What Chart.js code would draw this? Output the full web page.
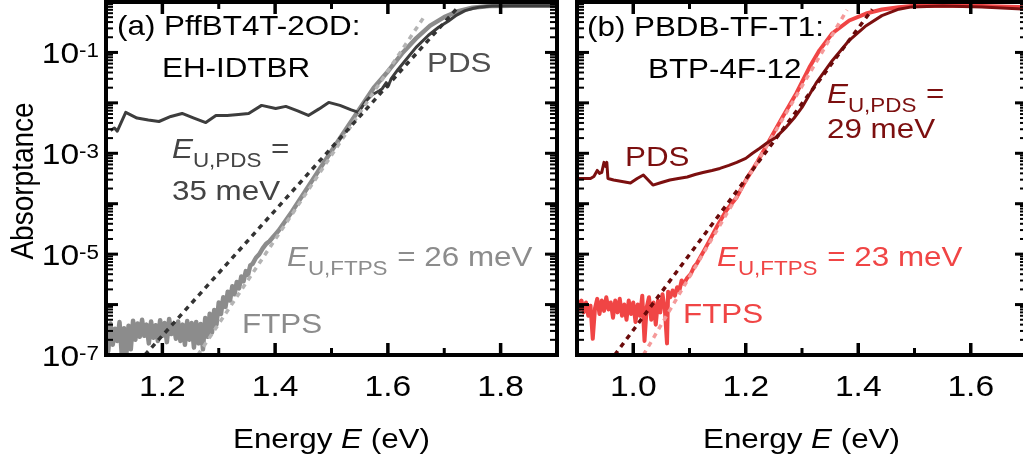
<!DOCTYPE html>
<html>
<head>
<meta charset="utf-8">
<script src="https://cdn.jsdelivr.net/npm/chart.js@4.4.1/dist/chart.umd.min.js"></script>
<style>
  html, body { margin: 0; padding: 0; background: #fff; overflow: hidden; width: 1023px; height: 462px; }
  #wrap { position: relative; width: 1023px; height: 462px; overflow: hidden; }
  .panel { position: absolute; top: 0; height: 462px; }
  #pa { left: 0; width: 565px; }
  #pb { left: 565px; width: 480px; }
</style>
</head>
<body>
<div id="wrap">
  <div class="panel" id="pa"><canvas id="ca" width="565" height="462" style="width:565px;height:462px"></canvas></div>
  <div class="panel" id="pb"><canvas id="cb" width="480" height="462" style="width:480px;height:462px"></canvas></div>
</div>
<script>
// ---------- Panel (a): PffBT4T-2OD:EH-IDTBR ----------
const pdsA_E = [1.108,1.115,1.120,1.135,1.155,1.175,1.194,1.215,1.235,1.256,1.277,1.295,1.315,1.335,1.353,1.376,1.401,1.419,1.440,1.459,1.478,1.495,1.515,1.535,1.548,1.560,1.572,1.585,1.590,1.597,1.600,1.606,1.618,1.631,1.650,1.672,1.690,1.707,1.722,1.737,1.752,1.765,1.785,1.820,1.900];
const pdsA_A = [2.82e-3,3.16e-3,2.75e-3,6.46e-3,5.0e-3,4.57e-3,4.27e-3,5.37e-3,6.17e-3,5.0e-3,4.07e-3,5.62e-3,5.62e-3,5.89e-3,6.17e-3,8.91e-3,7.76e-3,8.51e-3,6.92e-3,5.62e-3,7.59e-3,1.02e-2,8.91e-3,7.24e-3,6.46e-3,1.05e-2,1.45e-2,1.74e-2,1.91e-2,2.51e-2,2.09e-2,3.02e-2,4.6e-2,6.92e-2,0.126,0.219,0.316,0.417,0.55,0.676,0.75,0.80,0.83,0.84,0.84];

const ftpsA_E = [1.100,1.104,1.108,1.112,1.116,1.120,1.124,1.128,1.132,1.136,1.140,1.144,1.148,1.152,1.156,1.160,1.164,1.168,1.172,1.176,1.180,1.184,1.188,1.192,1.196,1.200,1.204,1.208,1.212,1.216,1.220,1.224,1.228,1.232,1.236,1.240,1.244,1.248,1.252,1.256,1.260,1.264,1.268,1.272,1.276,1.280,1.284,1.288,1.292,1.296,1.300,1.304,1.308,1.312,1.316,1.320,1.324,1.328,1.332,1.336,1.340,1.344,1.348,1.352,1.356,1.360,1.366,1.372,1.378,1.384,1.390,1.398,1.406,1.430,1.460,1.490,1.520,1.550,1.575,1.600,1.625,1.650,1.675,1.700,1.725,1.750,1.780,1.820,1.900];
const ftpsA_A = [3.0e-7,1.2e-7,4.2e-7,1.6e-7,3.3e-7,1.9e-7,4.5e-7,1.0e-7,3.4e-7,1.0e-7,3.8e-7,1.3e-7,4.8e-7,2.0e-7,4.2e-7,2.3e-7,5.0e-7,2.4e-7,4.0e-7,1.7e-7,4.6e-7,2.2e-7,3.9e-7,1.9e-7,4.9e-7,2.4e-7,4.3e-7,1.8e-7,5.2e-7,2.6e-7,4.1e-7,2.1e-7,4.6e-7,1.9e-7,4.0e-7,1.6e-7,4.7e-7,2.0e-7,4.3e-7,1.4e-7,4.5e-7,1.7e-7,4.1e-7,1.3e-7,5.4e-7,2.3e-7,6.6e-7,2.8e-7,7.8e-7,4.0e-7,1.1e-6,6.5e-7,1.4e-6,9.0e-7,1.8e-6,1.2e-6,2.3e-6,1.6e-6,2.8e-6,2.1e-6,3.6e-6,2.9e-6,4.6e-6,3.9e-6,6.0e-6,6.4e-6,8.5e-6,1.0e-5,1.3e-5,1.6e-5,1.8e-5,2.3e-5,2.9e-5,7.0e-5,2.3e-4,7.5e-4,2.4e-3,7.6e-3,2.0e-2,4.2e-2,9.5e-2,0.19,0.34,0.50,0.66,0.77,0.83,0.84,0.84];

const fitPdsA_E = [1.169, 1.725];
const fitPdsA_A = [1.0e-7, 0.80];
const fitFtpsA_E = [1.263, 1.667];
const fitFtpsA_A = [1.0e-7, 0.566];

// ---------- Panel (b): PBDB-TF-T1:BTP-4F-12 ----------
const pdsB_E = [0.900,0.924,0.930,0.936,0.940,0.944,0.948,0.951,0.953,0.955,0.965,0.980,0.995,1.007,1.018,1.035,1.050,1.065,1.080,1.096,1.110,1.124,1.140,1.154,1.170,1.184,1.200,1.212,1.225,1.237,1.254,1.272,1.286,1.300,1.325,1.354,1.384,1.414,1.442,1.472,1.495,1.550,1.620,1.700];
const pdsB_A = [3.16e-4,3.16e-4,3.47e-4,4.57e-4,3.98e-4,4.17e-4,6.61e-4,5.5e-4,6.61e-4,3.16e-4,2.95e-4,2.75e-4,2.57e-4,3.16e-4,3.72e-4,2.34e-4,2.63e-4,2.95e-4,3.16e-4,3.39e-4,3.8e-4,4.17e-4,4.57e-4,5.01e-4,5.75e-4,6.61e-4,7.94e-4,1.0e-3,1.26e-3,1.58e-3,2.09e-3,3.31e-3,5.01e-3,8.13e-3,2.45e-2,6.92e-2,0.174,0.339,0.537,0.72,0.80,0.83,0.80,0.72];

const ftpsB_E = [0.900,0.904,0.908,0.912,0.916,0.920,0.924,0.928,0.932,0.936,0.940,0.944,0.948,0.952,0.956,0.960,0.964,0.968,0.972,0.976,0.980,0.984,0.988,0.992,0.996,1.000,1.004,1.008,1.012,1.016,1.020,1.024,1.028,1.032,1.036,1.040,1.044,1.048,1.052,1.056,1.060,1.062,1.066,1.070,1.074,1.078,1.082,1.086,1.090,1.096,1.102,1.108,1.113,1.120,1.128,1.136,1.148,1.166,1.184,1.200,1.219,1.242,1.265,1.290,1.313,1.331,1.354,1.384,1.414,1.442,1.472,1.495,1.550,1.620,1.700];
const ftpsB_A = [1.3e-6,8.0e-7,1.2e-6,7.0e-7,1.1e-6,6.0e-7,9.5e-7,2.1e-7,8.5e-7,1.3e-6,6.5e-7,1.2e-6,7.5e-7,1.4e-6,8.0e-7,1.1e-6,5.5e-7,1.2e-6,7.0e-7,1.3e-6,6.0e-7,1.0e-6,5.0e-7,1.2e-6,6.5e-7,1.1e-6,4.5e-7,1.0e-6,6.0e-7,1.5e-6,1.9e-7,9.0e-7,1.4e-6,5.0e-7,1.1e-6,4.0e-7,1.2e-6,7.0e-7,1.6e-6,8.5e-7,1.7e-7,1.8e-6,1.4e-6,1.9e-6,1.5e-6,2.2e-6,1.9e-6,3.0e-6,2.6e-6,3.4e-6,4.0e-6,5.6e-6,6.5e-6,9.0e-6,1.3e-5,1.9e-5,3.4e-5,7.5e-5,1.35e-4,2.9e-4,6.3e-4,1.8e-3,5.1e-3,1.55e-2,5.0e-2,0.11,0.24,0.43,0.59,0.71,0.79,0.83,0.85,0.83,0.79];

const fitPdsB_E = [0.967, 1.425];
const fitPdsB_A = [1.0e-7, 0.718];
const fitFtpsB_E = [1.018, 1.380];
const fitFtpsB_A = [1.0e-7, 0.697];

// ---------- Axis ticks ----------
const xMajorA = [1.2, 1.4, 1.6, 1.8];
const xMinorA = [1.3, 1.5, 1.7];
const xMajorB = [1.0, 1.2, 1.4, 1.6];
const xMinorB = [1.1, 1.3, 1.5];
const xTickLabelsA = ['1.2', '1.4', '1.6', '1.8'];
const xTickLabelsB = ['1.0', '1.2', '1.4', '1.6'];
const yDecades = [-7, -6, -5, -4, -3, -2, -1, 0];
const yLabelDecades = [-7, -5, -3, -1];

// ---------- Drawing helpers ----------
const SX = 1.12;
const FONT = '"Liberation Sans", Arial, Helvetica, sans-serif';

function partWidth(ctx, p) {
  ctx.font = (p.italic ? 'italic ' : '') + (p.size || 28) + 'px ' + FONT;
  return ctx.measureText(p.t).width * SX;
}
function richWidth(ctx, parts) {
  let w = 0;
  for (const p of parts) w += partWidth(ctx, p) + (p.kern || 0);
  return w;
}
function drawRich(ctx, x, y, parts, color) {
  let cx = x;
  for (const p of parts) {
    ctx.save();
    const w = partWidth(ctx, p);
    ctx.fillStyle = color;
    ctx.textBaseline = 'alphabetic';
    ctx.textAlign = 'left';
    ctx.translate(cx, y + (p.dy || 0));
    ctx.scale(SX, 1);
    ctx.fillText(p.t, 0, 0);
    ctx.restore();
    cx += w + (p.kern || 0);
  }
}
function xy(E, A) { return E.map((e, i) => ({ x: e, y: A[i] })); }

// Boxed frame with inward ticks, tick labels, axis titles and annotations
const framePlugin = {
  id: 'frame',
  afterDraw(chart, args, o) {
    const ctx = chart.ctx;
    const xs = chart.scales.x, ys = chart.scales.y;
    const { left, right, top, bottom } = chart.chartArea;
    const off = o.offsetX;
    ctx.save();
    ctx.strokeStyle = '#000';
    ctx.lineCap = 'butt';
    const seg = (x1, y1, x2, y2, w) => {
      ctx.lineWidth = w; ctx.beginPath(); ctx.moveTo(x1, y1); ctx.lineTo(x2, y2); ctx.stroke();
    };
    const MAJ = 12, MIN = 7;
    o.xMajor.forEach(v => { const p = xs.getPixelForValue(v); seg(p, bottom, p, bottom - MAJ, 3.5); seg(p, top, p, top + MAJ, 3.5); });
    o.xMinor.forEach(v => { const p = xs.getPixelForValue(v); seg(p, bottom, p, bottom - MIN, 3); seg(p, top, p, top + MIN, 3); });
    yDecades.forEach(d => {
      const p = ys.getPixelForValue(Math.pow(10, d));
      seg(left, p, left + MAJ, p, 3); seg(right, p, right - MAJ, p, 3);
      if (d < 0) {
        for (let k = 2; k <= 9; k++) {
          const q = ys.getPixelForValue(k * Math.pow(10, d));
          seg(left, q, left + MIN, q, 2); seg(right, q, right - MIN, q, 2);
        }
      }
    });
    ctx.lineWidth = 4;
    ctx.strokeRect(left, top, right - left, bottom - top);

    // x tick labels
    o.xMajor.forEach((v, i) => {
      const p = xs.getPixelForValue(v);
      const parts = [{ t: o.xLabels[i], size: 30 }];
      drawRich(ctx, p - richWidth(ctx, parts) / 2, 396, parts, '#000');
    });
    // y tick labels (powers of ten)
    if (o.yLabels) {
      yLabelDecades.forEach(d => {
        const p = ys.getPixelForValue(Math.pow(10, d));
        const parts = [{ t: '10', size: 30 }, { t: String(d), size: 20, dy: -6 }];
        drawRich(ctx, 99 - off - richWidth(ctx, parts), p + 10.5, parts, '#000');
      });
      // y axis title
      ctx.save();
      ctx.font = '28px ' + FONT;
      ctx.fillStyle = '#000';
      ctx.textAlign = 'center';
      ctx.textBaseline = 'alphabetic';
      ctx.translate(33 - off, 181);
      ctx.scale(SX, 1);
      ctx.rotate(-Math.PI / 2);
      ctx.fillText('Absorptance', 0, 0);
      ctx.restore();
    }
    // x axis title
    drawRich(ctx, o.xTitleX - off, 448, [{ t: 'Energy ' }, { t: 'E', italic: true }, { t: ' (eV)' }], '#000');
    // annotations
    o.notes.forEach(n => drawRich(ctx, n.x - off, n.y, n.parts, n.color));
    ctx.restore();
  }
};

function makeOptions(xmin, xmax, pad, plug) {
  return {
    responsive: false,
    animation: false,
    devicePixelRatio: 1,
    layout: { padding: pad },
    events: [],
    elements: { point: { radius: 0 }, line: { tension: 0, borderJoinStyle: 'round', borderCapStyle: 'butt' } },
    scales: {
      x: { type: 'linear', min: xmin, max: xmax, display: false },
      y: { type: 'logarithmic', min: 1e-7, max: 1, display: false }
    },
    plugins: { legend: { display: false }, tooltip: { enabled: false }, frame: plug }
  };
}

const grayPDS = '#3d3d3d', grayFTPS = '#8c8c8c', grayFit = '#b4b4b4';
const redPDS = '#7c0f0f', redFTPS = '#f04545', redFit = '#f59a9a';

new Chart(document.getElementById('ca'), {
  type: 'line',
  plugins: [framePlugin],
  data: {
    datasets: [
      { data: xy(fitPdsA_E, fitPdsA_A), borderColor: '#333333', borderWidth: 3.5, borderDash: [5, 5], order: 0 },
      { data: xy(fitFtpsA_E, fitFtpsA_A), borderColor: grayFit, borderWidth: 3.5, borderDash: [5, 5], order: 1 },
      { data: xy(pdsA_E, pdsA_A), borderColor: grayPDS, borderWidth: 3, order: 2 },
      { data: xy(ftpsA_E, ftpsA_A), borderColor: grayFTPS, borderWidth: 4.5, order: 3 }
    ]
  },
  options: makeOptions(1.1, 1.9, { left: 106, right: 8, top: 2, bottom: 107 }, {
    offsetX: 0, xMajor: xMajorA, xMinor: xMinorA, xLabels: xTickLabelsA, yLabels: true, xTitleX: 233,
    notes: [
      { x: 117, y: 35, color: '#000', parts: [{ t: '(a) PffBT4T-2OD:' }] },
      { x: 162, y: 77, color: '#000', parts: [{ t: 'EH-IDTBR' }] },
      { x: 427, y: 72, color: '#505050', parts: [{ t: 'PDS' }] },
      { x: 172, y: 158, color: '#444444', parts: [{ t: 'E', italic: true }, { t: 'U,PDS', size: 20, dy: 9, kern: 1 }, { t: ' =' }] },
      { x: 172, y: 200, color: '#444444', parts: [{ t: '35 meV' }] },
      { x: 287, y: 266, color: grayFTPS, parts: [{ t: 'E', italic: true }, { t: 'U,FTPS', size: 20, dy: 9, kern: 1 }, { t: ' = 26 meV' }] },
      { x: 242, y: 333, color: grayFTPS, parts: [{ t: 'FTPS' }] }
    ]
  })
});

new Chart(document.getElementById('cb'), {
  type: 'line',
  plugins: [framePlugin],
  data: {
    datasets: [
      { data: xy(fitPdsB_E, fitPdsB_A), borderColor: '#6a0a0a', borderWidth: 3.5, borderDash: [5, 5], order: 0 },
      { data: xy(pdsB_E, pdsB_A), borderColor: redPDS, borderWidth: 3, order: 1 },
      { data: xy(fitFtpsB_E, fitFtpsB_A), borderColor: redFit, borderWidth: 3.5, borderDash: [5, 5], order: 2 },
      { data: xy(ftpsB_E, ftpsB_A), borderColor: redFTPS, borderWidth: 4, order: 3 }
    ]
  },
  options: makeOptions(0.9, 1.7, { left: 12, right: 18, top: 2, bottom: 107 }, {
    offsetX: 565, xMajor: xMajorB, xMinor: xMinorB, xLabels: xTickLabelsB, yLabels: false, xTitleX: 703,
    notes: [
      { x: 587, y: 36, color: '#000', parts: [{ t: '(b) PBDB-TF-T1:' }] },
      { x: 648, y: 78, color: '#000', parts: [{ t: 'BTP-4F-12' }] },
      { x: 625, y: 166, color: redPDS, parts: [{ t: 'PDS' }] },
      { x: 827, y: 103, color: redPDS, parts: [{ t: 'E', italic: true }, { t: 'U,PDS', size: 20, dy: 9, kern: 1 }, { t: ' =' }] },
      { x: 827, y: 138, color: redPDS, parts: [{ t: '29 meV' }] },
      { x: 717, y: 266, color: redFTPS, parts: [{ t: 'E', italic: true }, { t: 'U,FTPS', size: 20, dy: 9, kern: 1 }, { t: ' = 23 meV' }] },
      { x: 683, y: 323, color: redFTPS, parts: [{ t: 'FTPS' }] }
    ]
  })
});
</script>
</body>
</html>
